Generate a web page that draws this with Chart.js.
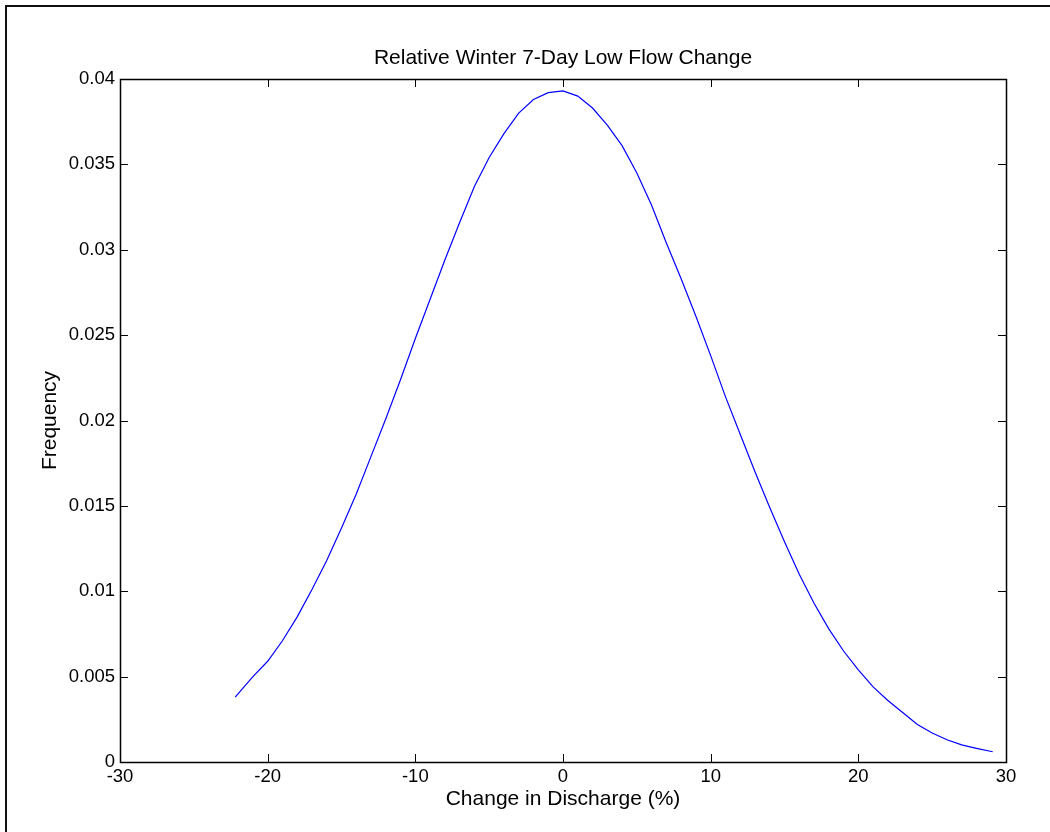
<!DOCTYPE html>
<html>
<head>
<meta charset="utf-8">
<title>Relative Winter 7-Day Low Flow Change</title>
<script src="https://cdn.jsdelivr.net/npm/chart.js@4/dist/chart.umd.min.js"></script>
<style>
  html, body { margin: 0; padding: 0; background: #fff; }
  canvas { display: block; }
</style>
</head>
<body>
<canvas id="flow" width="1050" height="832"></canvas>
<script>
// Curve (change in discharge %, frequency).
var changePct = [-22.2, -21, -20, -19, -18, -17, -16, -15, -14, -13, -12, -11, -10, -9, -8, -7, -6, -5, -4, -3, -2, -1, 0,
    1, 2, 3, 4, 5, 6, 7, 8, 9, 10, 11, 12, 13, 14, 15, 16, 17, 18, 19, 20, 21, 22, 23, 24, 25, 26, 27, 28, 29.1];
var frequency = [0.0038, 0.0050, 0.0059, 0.0071, 0.0085, 0.0101, 0.0118, 0.0137, 0.0157, 0.0179, 0.0201, 0.0224, 0.0248,
    0.0271, 0.0294, 0.0316, 0.0337, 0.0354, 0.0368, 0.0380, 0.0388, 0.0392, 0.0393,
    0.0390, 0.0383, 0.0373, 0.0361, 0.0345, 0.0326, 0.0304, 0.0283, 0.0261, 0.0238, 0.0214, 0.0192, 0.0170, 0.0149,
    0.0129, 0.0110, 0.0093, 0.0078, 0.0065, 0.0054, 0.0044, 0.0036, 0.0029, 0.0022, 0.0017, 0.0013, 0.0010, 0.0008, 0.0006];

var xTicks = [-30, -20, -10, 0, 10, 20, 30];
var xTickLabels = ['-30', '-20', '-10', '0', '10', '20', '30'];
var yTicks = [0, 0.005, 0.01, 0.015, 0.02, 0.025, 0.03, 0.035, 0.04];
var yTickLabels = ['0', '0.005', '0.01', '0.015', '0.02', '0.025', '0.03', '0.035', '0.04'];

(function () {
    'use strict';

    var font = 'Arial, "Liberation Sans", sans-serif';

    var points = changePct.map(function (x, i) {
        return { x: x, y: frequency[i] };
    });

    // Axes box, inward ticks on all four sides, outer figure frame.
    var matlabBox = {
        id: 'matlabBox',
        afterDraw: function (chart) {
            var ctx = chart.ctx;
            var a = chart.chartArea;
            var xs = chart.scales.x;
            var ys = chart.scales.y;
            var len = 8;
            ctx.save();
            ctx.strokeStyle = '#000';
            ctx.lineWidth = 1;
            ctx.beginPath();
            xTicks.forEach(function (v) {
                var px = Math.round(xs.getPixelForValue(v)) + 0.5;
                ctx.moveTo(px, a.bottom);
                ctx.lineTo(px, a.bottom - len);
                ctx.moveTo(px, a.top);
                ctx.lineTo(px, a.top + len);
            });
            yTicks.forEach(function (v) {
                var py = Math.round(ys.getPixelForValue(v)) + 0.5;
                ctx.moveTo(a.left, py);
                ctx.lineTo(a.left + len, py);
                ctx.moveTo(a.right, py);
                ctx.lineTo(a.right - len, py);
            });
            ctx.stroke();
            ctx.lineWidth = 1.5;
            ctx.strokeRect(Math.round(a.left) + 0.5, Math.round(a.top) + 0.5,
                Math.round(a.right - a.left), Math.round(a.bottom - a.top));
            ctx.strokeStyle = '#111';
            ctx.lineWidth = 2;
            ctx.strokeRect(6, 6, chart.width + 10, chart.height + 10);
            ctx.restore();
        }
    };

    new Chart(document.getElementById('flow'), {
        type: 'scatter',
        data: {
            datasets: [{
                data: points,
                showLine: true,
                borderColor: '#0000ff',
                borderWidth: 1.2,
                pointRadius: 0,
                tension: 0,
                fill: false
            }]
        },
        options: {
            responsive: false,
            animation: false,
            layout: { padding: { left: 0, right: 44, top: 46, bottom: 0 } },
            plugins: {
                legend: { display: false },
                tooltip: { enabled: false },
                title: {
                    display: true,
                    fullSize: false,
                    text: 'Relative Winter 7-Day Low Flow Change',
                    color: '#000',
                    font: { family: font, size: 21, weight: 'normal', lineHeight: 1.2 },
                    padding: { top: 0, bottom: 7.8 }
                }
            },
            scales: {
                x: {
                    type: 'linear',
                    min: -30,
                    max: 30,
                    afterBuildTicks: function (s) {
                        s.ticks = xTicks.map(function (v) { return { value: v }; });
                    },
                    afterFit: function (s) { s.height = 70; },
                    grid: { display: false, drawTicks: false },
                    border: { display: false },
                    ticks: {
                        color: '#000',
                        padding: 4,
                        maxRotation: 0,
                        font: { family: font, size: 18.5 },
                        callback: function (v) { return xTickLabels[xTicks.indexOf(v)]; }
                    },
                    title: {
                        display: true,
                        text: 'Change in Discharge (%)',
                        color: '#000',
                        font: { family: font, size: 21, lineHeight: 1.2 },
                        padding: { top: 20, bottom: 20 }
                    }
                },
                y: {
                    type: 'linear',
                    min: 0,
                    max: 0.04,
                    afterBuildTicks: function (s) {
                        s.ticks = yTicks.map(function (v) { return { value: v }; });
                    },
                    afterFit: function (s) { s.width = 120; },
                    grid: { display: false, drawTicks: false },
                    border: { display: false },
                    ticks: {
                        color: '#000',
                        padding: 5,
                        font: { family: font, size: 18.5 },
                        callback: function (v) { return yTickLabels[yTicks.indexOf(v)]; }
                    },
                    title: {
                        display: true,
                        text: 'Frequency',
                        color: '#000',
                        font: { family: font, size: 21, lineHeight: 1.2 },
                        padding: { top: 38, bottom: 0 }
                    }
                }
            }
        },
        plugins: [matlabBox]
    });
})();
</script>
</body>
</html>
